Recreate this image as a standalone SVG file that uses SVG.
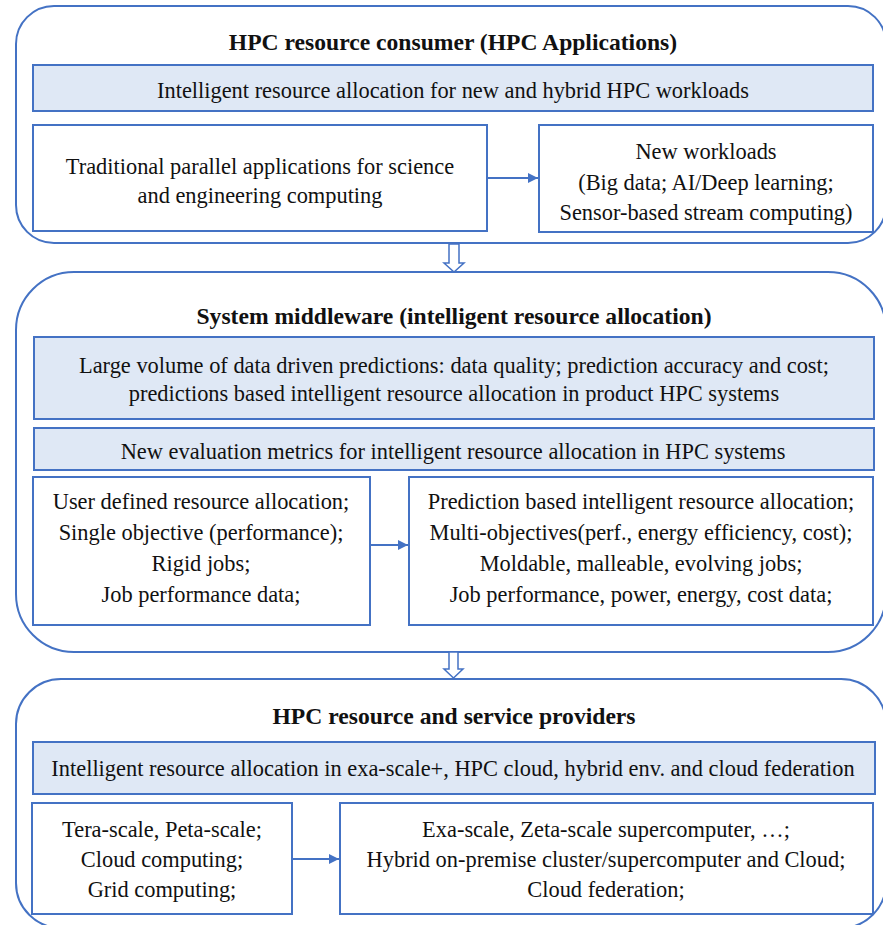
<svg xmlns="http://www.w3.org/2000/svg" width="883" height="925" viewBox="0 0 883 925">
<style>
.sec{fill:#ffffff;stroke:#4472c4;stroke-width:2}
.box{fill:#ffffff;stroke:#4472c4;stroke-width:2}
.ban{fill:#dfe8f5;stroke:#4472c4;stroke-width:2}
text{font-family:"Liberation Serif","Times New Roman",serif;font-size:22.4px;fill:#111;text-anchor:middle}
.t{font-weight:bold;font-size:23.6px}
.con{stroke:#4472c4;stroke-width:2;fill:none}
.blk{fill:#ffffff;stroke:#4472c4;stroke-width:1.5}
</style>
<defs>
<marker id="ah" viewBox="0 0 10 10" refX="10" refY="5" markerWidth="5" markerHeight="5" orient="auto" markerUnits="strokeWidth">
<path d="M0,0 L10,5 L0,10 Z" fill="#4472c4"/>
</marker>
</defs>
<rect width="883" height="925" fill="#ffffff"/>
<g id="consumer">
<rect class="sec" x="16" y="6" width="870" height="237" rx="38" ry="38"/>
<text class="t" x="453" y="50">HPC resource consumer (HPC Applications)</text>
</g>
<g id="consumer-banner">
<rect class="ban" x="33" y="65" width="840" height="46"/>
<text x="453" y="98">Intelligent resource allocation for new and hybrid HPC workloads</text>
</g>
<g id="traditional">
<rect class="box" x="33" y="125" width="454" height="106"/>
<text x="260" y="174">Traditional parallel applications for science</text>
<text x="260" y="203">and engineering computing</text>
</g>
<g id="newworkloads">
<rect class="box" x="539" y="125" width="334" height="107"/>
<text x="706" y="159">New workloads</text>
<text x="706" y="190">(Big data; AI/Deep learning;</text>
<text x="706" y="220">Sensor-based stream computing)</text>
</g>
<g id="middleware">
<rect class="sec" x="16" y="272" width="870" height="380" rx="58" ry="58"/>
<text class="t" x="454" y="324">System middleware (intelligent resource allocation)</text>
</g>
<g id="predictions-banner">
<rect class="ban" x="34" y="337" width="840" height="82"/>
<text x="454" y="373">Large volume of data driven predictions: data quality; prediction accuracy and cost;</text>
<text x="454" y="401">predictions based intelligent resource allocation in product HPC systems</text>
</g>
<g id="metrics-banner">
<rect class="ban" x="34" y="428" width="840" height="42"/>
<text x="453" y="459">New evaluation metrics for intelligent resource allocation in HPC systems</text>
</g>
<g id="userdefined">
<rect class="box" x="33" y="477" width="337" height="148"/>
<text x="201" y="509">User defined resource allocation;</text>
<text x="201" y="540">Single objective (performance);</text>
<text x="201" y="571">Rigid jobs;</text>
<text x="201" y="602">Job performance data;</text>
</g>
<g id="predictionbased">
<rect class="box" x="409" y="477" width="464" height="148"/>
<text x="641" y="509">Prediction based intelligent resource allocation;</text>
<text x="641" y="540">Multi-objectives(perf., energy efficiency, cost);</text>
<text x="641" y="571">Moldable, malleable, evolving jobs;</text>
<text x="641" y="602">Job performance, power, energy, cost data;</text>
</g>
<g id="providers">
<rect class="sec" x="16" y="679" width="870" height="249" rx="45" ry="45"/>
<text class="t" x="454" y="724">HPC resource and service providers</text>
</g>
<g id="providers-banner">
<rect class="ban" x="33" y="742" width="842" height="52"/>
<text x="453" y="776">Intelligent resource allocation in exa-scale+, HPC cloud, hybrid env. and cloud federation</text>
</g>
<g id="terascale">
<rect class="box" x="32" y="803" width="260" height="111"/>
<text x="162" y="837">Tera-scale, Peta-scale;</text>
<text x="162" y="867">Cloud computing;</text>
<text x="162" y="897">Grid computing;</text>
</g>
<g id="exascale">
<rect class="box" x="340" y="803" width="533" height="111"/>
<text x="606" y="837">Exa-scale, Zeta-scale supercomputer, …;</text>
<text x="606" y="867">Hybrid on-premise cluster/supercomputer and Cloud;</text>
<text x="606" y="897">Cloud federation;</text>
</g>
<g id="connectors">
<line class="con" x1="487" y1="178" x2="538" y2="178" marker-end="url(#ah)"/>
<line class="con" x1="370" y1="545" x2="408" y2="545" marker-end="url(#ah)"/>
<line class="con" x1="292" y1="859" x2="339" y2="859" marker-end="url(#ah)"/>
<polygon class="blk" points="449,244 459,244 459,263 464,263 454,272 444,263 449,263"/>
<polygon class="blk" points="449,652 458,652 458,669 463,669 453.5,678 444,669 449,669"/>
</g>
</svg>
